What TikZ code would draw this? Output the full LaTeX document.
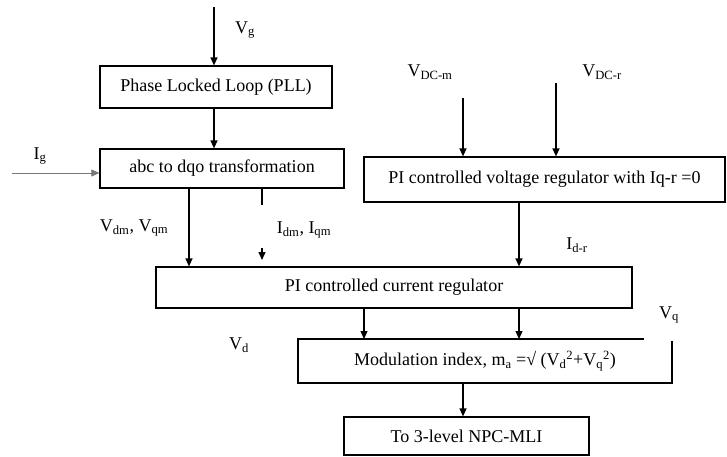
\documentclass[tikz,border=0pt]{standalone}
\usepackage{fontspec}
\setmainfont{Liberation Serif}
\usepackage{tikz}
\usetikzlibrary{arrows.meta,positioning}
\definecolor{mygray}{RGB}{120,120,120}

\begin{document}
\begin{tikzpicture}[
  x=1pt, y=-1pt,
  every node/.style={font=\fontsize{18}{20}\selectfont, inner sep=0pt},
  block/.style={draw, line width=1.2pt, minimum height=42pt},
  lbl/.style={anchor=center},
  edge/.style={-{Triangle[length=8pt,width=7pt]}, line width=1.2pt}
]
\useasboundingbox (0,0) rectangle (727,456);
\node[block, minimum width=232pt] (pll) at (216,87) {Phase Locked Loop (PLL)};
\node[block, minimum width=244pt, minimum height=39pt] (abc) at (222,168.5) {abc to dqo transformation};
\node[block, minimum width=361pt, minimum height=45pt] (vreg) at (544.5,179.5) {PI controlled voltage regulator with Iq-r =0};
\node[block, minimum width=476pt, minimum height=41pt] (cur) at (394,287.5) {PI controlled current regulator};
\node[block, draw=none, outer sep=0pt, minimum width=374pt, minimum height=44pt] (mod) at (485,361) {Modulation index, m\textsubscript{a} =√ (V\textsubscript{d}\textsuperscript{2}+V\textsubscript{q}\textsuperscript{2})};
\node[block, minimum width=245pt, minimum height=38pt] (npc) at (466.5,436) {To 3-level NPC-MLI};
\draw[line width=1.2pt] ([xshift=-28pt]mod.north east) -- (mod.north west) -- (mod.south west) -- (mod.south east) -- ([yshift=-2pt]mod.north east);

\coordinate (vgin) at (214,7);
\coordinate (igin) at (12,173);
\coordinate (vdcm) at (463,98);
\coordinate (vdcr) at (556,83);
\coordinate (idq) at (262,248);

\node[lbl] (vg) at (245,30) {V\textsubscript{g}};
\node[lbl] (ig) at (40,156) {I\textsubscript{g}};
\node[lbl] (vdcmlbl) at (430,72) {V\textsubscript{DC-m}};
\node[lbl] (vdcrlbl) at (602,72) {V\textsubscript{DC-r}};
\node[lbl] (vdqlbl) at (134,228) {V\textsubscript{dm}, V\textsubscript{qm}};
\node[lbl] (idqlbl) at (304,230) {I\textsubscript{dm}, I\textsubscript{qm}};
\node[lbl] (idrlbl) at (577,245) {I\textsubscript{d-r}};
\node[lbl] (vdlbl) at (239,345) {V\textsubscript{d}};
\node[lbl] (vqlbl) at (669,315) {V\textsubscript{q}};

\draw[edge] (vgin) -- (vgin |- pll.north);
\draw[edge] (pll.south -| vgin) -- (abc.north -| vgin);
\draw[edge, line width=0.6pt, mygray] (igin) -- (abc.west |- igin);
\draw[edge] ([xshift=-33pt]abc.south) -- ([xshift=-205pt]cur.north);
\draw[line width=1.2pt] ([xshift=40pt]abc.south) -- ++(0,16);
\draw[edge] (idq) -- ++(0,12);
\draw[edge] (vdcm) -- (vdcm |- vreg.north);
\draw[edge] (vdcr) -- (vdcr |- vreg.north);
\draw[edge] ([xshift=-25.5pt]vreg.south) -- ([xshift=125pt]cur.north);
\draw[edge] ([xshift=-30pt]cur.south) -- ([xshift=-121pt]mod.north);
\draw[edge] ([xshift=125pt]cur.south) -- ([xshift=34pt]mod.north);
\draw[edge] ([xshift=-22pt]mod.south) -- ([xshift=-3.5pt]npc.north);
\end{tikzpicture}
\end{document}
